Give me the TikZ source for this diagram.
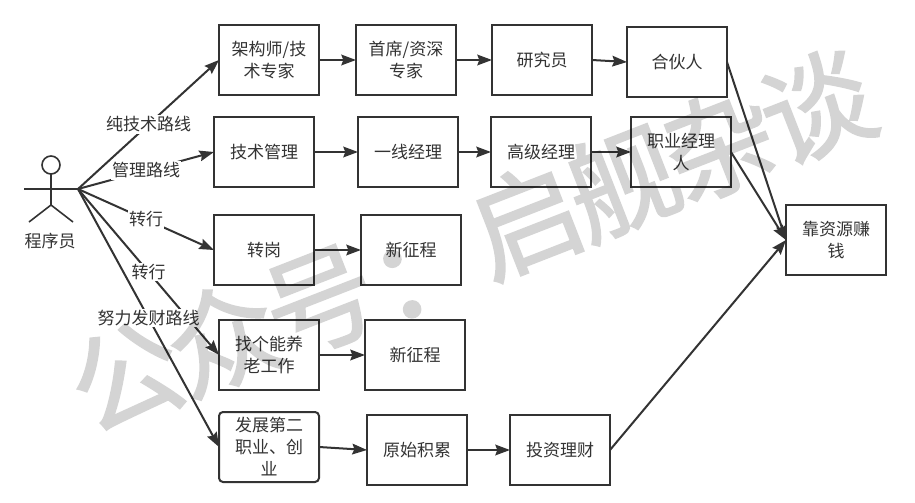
\documentclass[tikz,border=0pt]{standalone}
\usepackage{fontspec}
\setmainfont{Noto Sans CJK SC}
\newfontfamily\wmfont[FakeBold=1.6,LetterSpace=-6]{Noto Sans CJK SC}
\usetikzlibrary{arrows.meta}
\definecolor{ink}{HTML}{333333}
\tikzset{
  every node/.style={font=\fontsize{12.75}{16.5}\selectfont,text=ink},
  box/.style={draw=ink,line width=1.5pt,outer sep=0pt,minimum width=75pt,minimum height=52.5pt,inner sep=0pt,align=center,anchor=north west},
  rbox/.style={box,rounded corners=3pt},
  link/.style={draw=ink,line width=1.5pt,-{Stealth[length=11pt,width=8pt,inset=1.5pt]}},
  actorline/.style={draw=ink,line width=1.2pt},
  lbl/.style={fill=white,inner sep=1pt,midway},
  wmark/.style={text=black,font=\fontsize{83}{88}\selectfont\wmfont,rotate=21.3}
}
\begin{document}
\begin{tikzpicture}[x=0.75pt,y=-0.75pt]
\useasboundingbox (0,0) rectangle (915,503);
\fill[white] (0,0) rectangle (915,503);
% actor
\draw[actorline] (51,165) circle (9);
\draw[actorline] (51,174) -- (51,205) (24,189) -- (78,189) (29,222) -- (51,205) -- (73,222);
\coordinate (prog) at (78,189);
\node (proglabel) at (50,241) {程序员};
% boxes
\node[box] (a1) at (219,25) {架构师/技\\术专家};
\node[box] (a2) at (356,25) {首席/资深\\专家};
\node[box] (a3) at (492,25) {研究员};
\node[box] (a4) at (627,27) {合伙人};
\node[box] (b1) at (214,117) {技术管理};
\node[box] (b2) at (358,117) {一线经理};
\node[box] (b3) at (491,117) {高级经理};
\node[box] (b4) at (631,117) {职业经理\\人};
\node[box] (m) at (786,205) {靠资源赚\\钱};
\node[box] (c1) at (214,215) {转岗};
\node[box] (c2) at (361,215) {新征程};
\node[box] (d1) at (219,320) {找个能养\\老工作};
\node[box] (d2) at (365,320) {新征程};
\node[rbox] (e1) at (219,412) {发展第二\\职业、创\\业};
\node[box] (e2) at (367,415) {原始积累};
\node[box] (e3) at (510,415) {投资理财};
% connectors
\draw[link] (prog) -- (a1.west) node[lbl] {纯技术路线};
\draw[link] (prog) -- (b1.west) node[lbl] {管理路线};
\draw[link] (prog) -- (c1.west) node[lbl] {转行};
\draw[link] (prog) -- (d1.west) node[lbl] {转行};
\draw[link] (prog) -- (e1.west) node[lbl] {努力发财路线};
\draw[link] (a1) -- (a2);
\draw[link] (a2) -- (a3);
\draw[link] (a3.east) -- (a4.west);
\draw[link] (b1) -- (b2);
\draw[link] (b2) -- (b3);
\draw[link] (b3) -- (b4);
\draw[link] (c1) -- (c2);
\draw[link] (d1) -- (d2);
\draw[link] (e1.east) -- (e2.west);
\draw[link] (e2) -- (e3);
\draw[link] (a4.east) -- (m.west);
\draw[link] (b4.east) -- (m.west);
\draw[link] (e3.east) -- (m.west);
% watermark
\begin{scope}[transparency group,opacity=0.17]
\node[wmark] (wm) at (471,241) {公众号\raisebox{-6pt}{：}启舰杂谈};
\end{scope}
\end{tikzpicture}
\end{document}
